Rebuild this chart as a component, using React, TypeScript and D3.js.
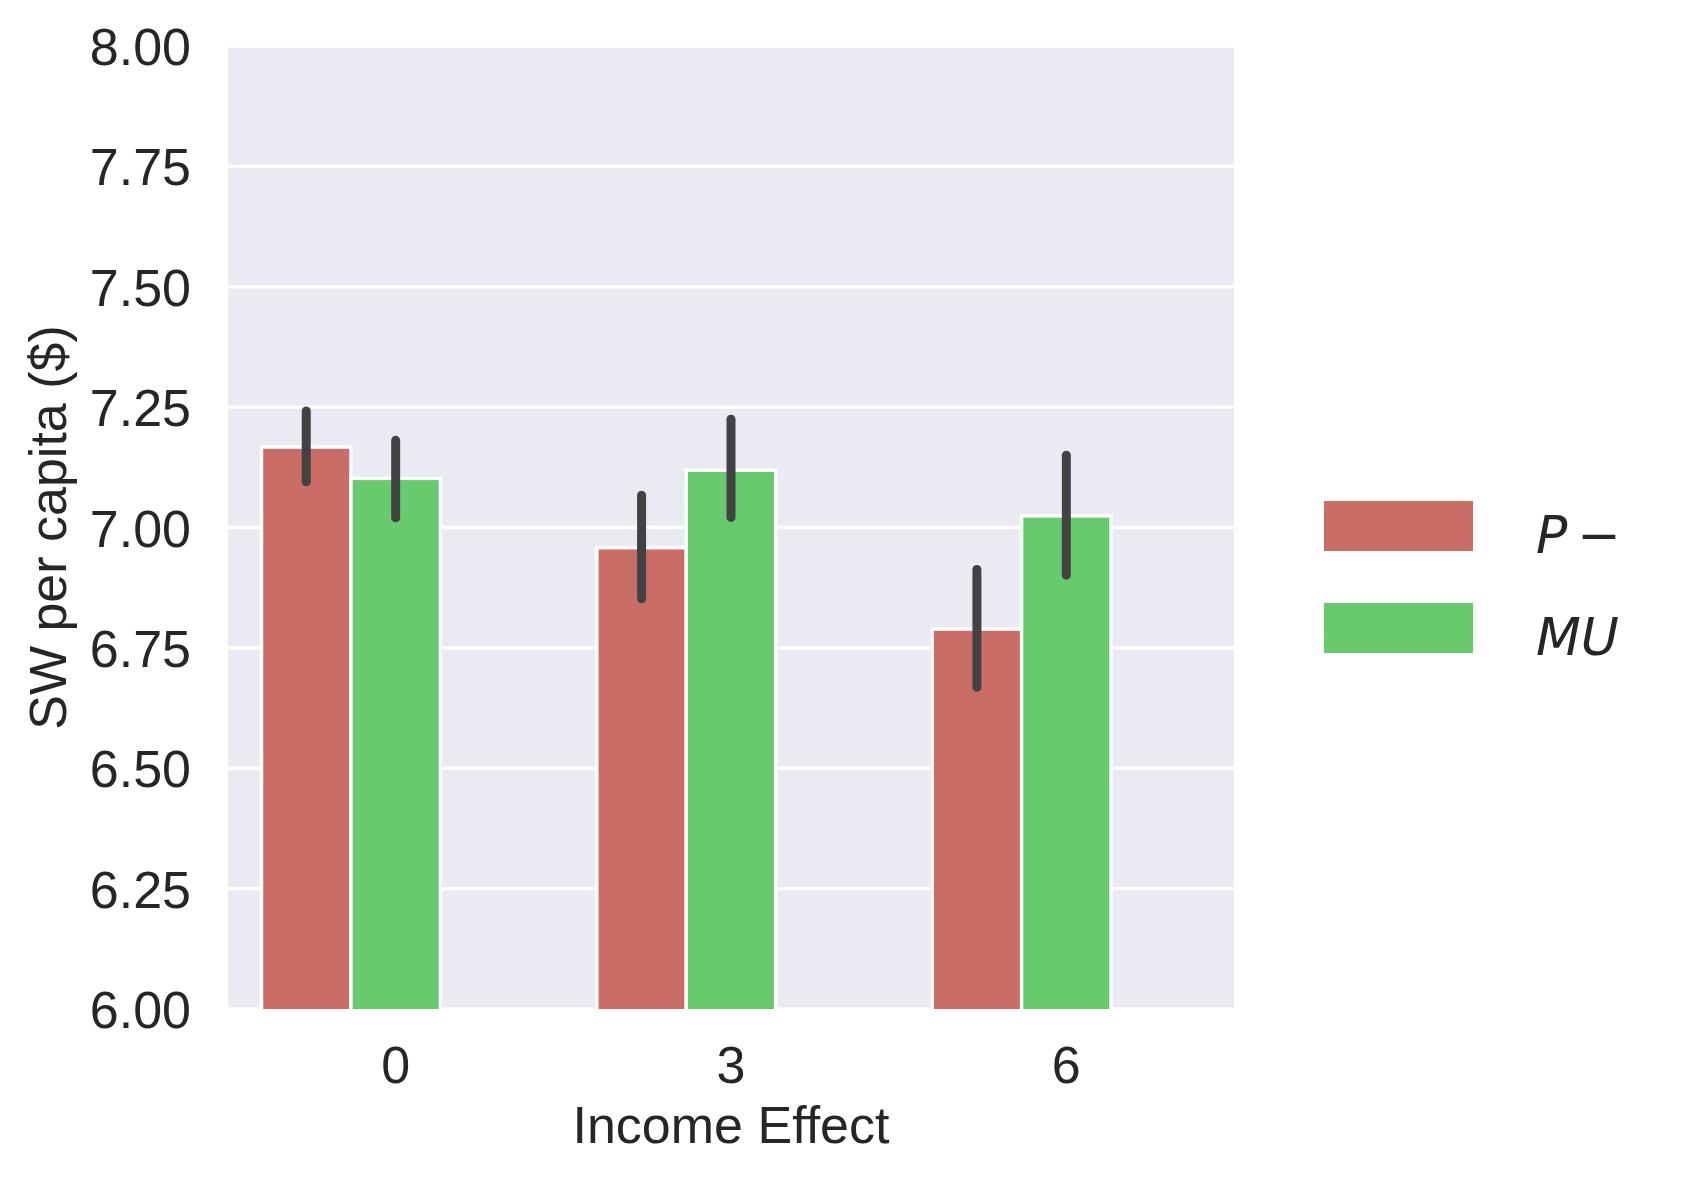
import * as d3 from 'd3'

// categories on the x axis
const incomeEffects = ['0', '3', '6']
// seaborn keeps a slot for a third hue level that has no data
const hueSlots = ['P-', 'MU', 'none']

const pMinusMeans = [7.167, 6.958, 6.789]
const pMinusLow = [7.095, 6.852, 6.668]
const pMinusHigh = [7.242, 7.067, 6.913]

const muMeans = [7.102, 7.119, 7.024]
const muLow = [7.02, 7.021, 6.901]
const muHigh = [7.181, 7.225, 7.15]

const yTicks = [6.0, 6.25, 6.5, 6.75, 7.0, 7.25, 7.5, 7.75, 8.0]

const series = [
  { key: 'P-', color: '#cb6d67', means: pMinusMeans, low: pMinusLow, high: pMinusHigh },
  { key: 'MU', color: '#67cb6e', means: muMeans, low: muLow, high: muHigh },
]

const W = 1688
const H = 1179
const plot = { left: 228, right: 1234, top: 46, bottom: 1009 }
const ink = '#262626'
const sans = '"Liberation Sans", Arial, sans-serif'
const mathFont = '"DejaVu Sans", sans-serif'

export default function App() {
  const x = d3
    .scaleBand()
    .domain(incomeEffects)
    .range([plot.left, plot.right])
    .paddingInner(0.2)
    .paddingOuter(0.1)

  const hue = d3.scaleBand().domain(hueSlots).range([0, x.bandwidth()])

  const y = d3.scaleLinear().domain([6, 8]).range([plot.bottom, plot.top])

  const legendY = d3.scaleBand().domain(series.map((s) => s.key)).range([475, 679]).paddingInner(0)

  return (
    <div style={{ position: 'absolute', left: 0, top: 0 }}>
      <svg width={W} height={H} viewBox={`0 0 ${W} ${H}`} style={{ display: 'block', background: '#fff' }}>
        <defs>
          <clipPath id="plot-clip">
            <rect x={plot.left} y={plot.top} width={plot.right - plot.left} height={plot.bottom - plot.top} />
          </clipPath>
        </defs>
        <rect x={plot.left} y={plot.top} width={plot.right - plot.left} height={plot.bottom - plot.top} fill="#eaeaf2" />
        {yTicks.map((t) => (
          <line key={t} x1={plot.left} x2={plot.right} y1={y(t)} y2={y(t)} stroke="#fff" strokeWidth={3.4} />
        ))}

        <g clipPath="url(#plot-clip)">
          {series.map((s) =>
            incomeEffects.map((c, i) => {
              const bx = (x(c) ?? 0) + (hue(s.key) ?? 0)
              return (
                <rect
                  key={s.key + c}
                  x={bx}
                  y={y(s.means[i])}
                  width={hue.bandwidth()}
                  height={plot.bottom + 20 - y(s.means[i])}
                  fill={s.color}
                  stroke="#fff"
                  strokeWidth={3.4}
                />
              )
            }),
          )}
        </g>

        {series.map((s) =>
          incomeEffects.map((c, i) => {
            const cx = (x(c) ?? 0) + (hue(s.key) ?? 0) + hue.bandwidth() / 2
            return (
              <line
                key={'err' + s.key + c}
                x1={cx}
                x2={cx}
                y1={y(s.low[i])}
                y2={y(s.high[i])}
                stroke="#424242"
                strokeWidth={9}
                strokeLinecap="round"
              />
            )
          }),
        )}

        {yTicks.map((t) => (
          <text
            key={'yt' + t}
            x={191}
            y={y(t) + 19}
            textAnchor="end"
            fontFamily={sans}
            fontSize={52}
            fill={ink}
          >
            {t.toFixed(2)}
          </text>
        ))}

        {incomeEffects.map((c) => (
          <text
            key={'xt' + c}
            x={(x(c) ?? 0) + x.bandwidth() / 2}
            y={1083}
            textAnchor="middle"
            fontFamily={sans}
            fontSize={52}
            fill={ink}
          >
            {c}
          </text>
        ))}

        <text
          x={(plot.left + plot.right) / 2}
          y={1143}
          textAnchor="middle"
          fontFamily={sans}
          fontSize={52}
          fill={ink}
        >
          Income Effect
        </text>

        <text
          transform={`translate(66,${(plot.top + plot.bottom) / 2}) rotate(-90)`}
          textAnchor="middle"
          fontFamily={sans}
          fontSize={52}
          fill={ink}
        >
          SW per capita ($)
        </text>

        {series.map((s) => {
          const cy = (legendY(s.key) ?? 0) + legendY.bandwidth() / 2
          return (
            <g key={'lg' + s.key}>
              <rect x={1324} y={cy - 25} width={149} height={50} fill={s.color} />
              <text x={1536} y={cy + 27} fontFamily={mathFont} fontSize={52} fill={ink}>
                {s.key === 'P-' ? (
                  <>
                    <tspan fontStyle="italic">P</tspan>
                    <tspan dx={10}>−</tspan>
                  </>
                ) : (
                  <tspan fontStyle="italic">MU</tspan>
                )}
              </text>
            </g>
          )
        })}
      </svg>
    </div>
  )
}
